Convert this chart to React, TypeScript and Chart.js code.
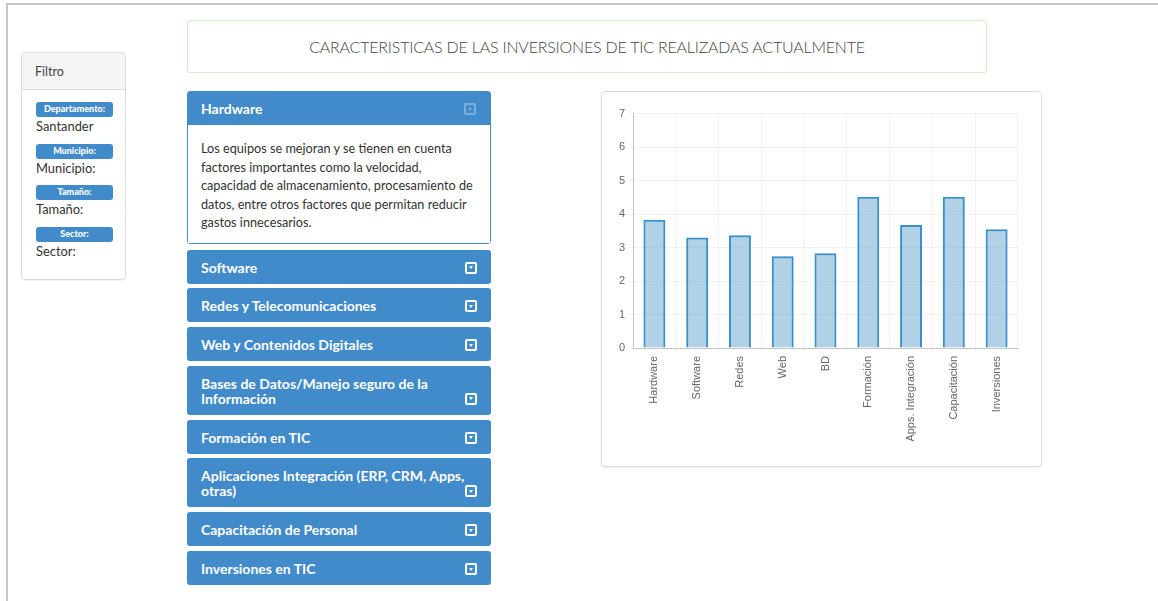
import React, { useEffect, useRef } from "react";
import { Chart, registerables } from "chart.js";

Chart.register(...registerables);

const categories = [
  "Hardware",
  "Software",
  "Redes",
  "Web",
  "BD",
  "Formación",
  "Apps. Integración",
  "Capacitación",
  "Inversiones",
];
const values = [3.83, 3.3, 3.37, 2.74, 2.83, 4.52, 3.67, 4.52, 3.55];
const yMin = 0;
const yMax = 7;
const yStep = 1;

const pageTitle = "CARACTERISTICAS DE LAS INVERSIONES DE TIC REALIZADAS ACTUALMENTE";
const filterLabels = ["Departamento:", "Municipio:", "Tamaño:", "Sector:"];
const filterValues = ["Santander", "Municipio:", "Tamaño:", "Sector:"];
const openTitle = "Hardware";
const openBodyLines = [
  "Los equipos se mejoran y se tienen en cuenta",
  "factores importantes como la velocidad,",
  "capacidad de almacenamiento, procesamiento de",
  "datos, entre otros factores que permitan reducir",
  "gastos innecesarios.",
];
const closedTitles = [
  ["Software"],
  ["Redes y Telecomunicaciones"],
  ["Web y Contenidos Digitales"],
  ["Bases de Datos/Manejo seguro de la", "Información"],
  ["Formación en TIC"],
  ["Aplicaciones Integración (ERP, CRM, Apps,", "otras)"],
  ["Capacitación de Personal"],
  ["Inversiones en TIC"],
];

const BLUE = "#428bca";
const FONT = "Lato, 'Open Sans', sans-serif";

function Icon({ faded }: { faded?: boolean }) {
  return (
    <div
      style={{
        position: "absolute",
        right: 14,
        bottom: 10,
        width: 12,
        height: 12,
        boxSizing: "border-box",
        border: "2px solid #fff",
        borderRadius: 2,
        opacity: faded ? 0.3 : 1,
      }}
    >
      <div
        style={{
          position: "absolute",
          left: 1.5,
          top: 2.5,
          width: 0,
          height: 0,
          borderLeft: "2.5px solid transparent",
          borderRight: "2.5px solid transparent",
          borderTop: "3px solid #fff",
        }}
      />
    </div>
  );
}

function BarChart() {
  const ref = useRef<HTMLCanvasElement | null>(null);
  useEffect(() => {
    if (!ref.current) return;
    const chart = new Chart(ref.current, {
      type: "bar",
      data: {
        labels: categories,
        datasets: [
          {
            data: values,
            backgroundColor: "rgba(60,141,196,0.4)",
            borderColor: "#3a8fca",
            borderWidth: 2,
            barPercentage: 0.57,
            categoryPercentage: 0.9,
          },
        ],
      },
      options: {
        animation: false,
        responsive: false,
        devicePixelRatio: 1,
        layout: { padding: { top: 0, right: 0, bottom: 0, left: 0 } },
        plugins: { legend: { display: false }, tooltip: { enabled: false } },
        scales: {
          y: {
            min: yMin,
            max: yMax,
            ticks: {
              stepSize: yStep,
              color: "#666",
              padding: 4,
              font: { family: "'Liberation Sans', Arial, sans-serif", size: 11 },
            },
            grid: { color: "rgba(0,0,0,0.05)", tickLength: 4 },
            border: { color: "#c4c4c4" },
            afterFit: (s: any) => {
              s.width = 27;
            },
          },
          x: {
            offset: true,
            ticks: {
              minRotation: 90,
              maxRotation: 90,
              autoSkip: false,
              color: "#666",
              padding: 4,
              font: { family: "'Liberation Sans', Arial, sans-serif", size: 11 },
            },
            grid: { color: "rgba(0,0,0,0.05)", tickLength: 4, offset: true },
            border: { color: "#c4c4c4" },
            afterFit: (s: any) => {
              s.height = 103;
            },
          },
        },
      },
    });
    return () => chart.destroy();
  }, []);
  return (
    <canvas
      ref={ref}
      width={412}
      height={348}
      style={{ position: "absolute", left: 606, top: 103, width: 412, height: 348 }}
    />
  );
}

export default function App() {
  return (
    <div
      style={{
        position: "absolute",
        left: 0,
        top: 0,
        width: 1158,
        height: 601,
        overflow: "hidden",
        background: "#fff",
        fontFamily: FONT,
        color: "#333",
      }}
    >
      {/* outer frame */}
      <div
        style={{
          position: "absolute",
          left: 6,
          top: 3,
          width: 1200,
          height: 700,
          borderTop: "2px solid #c6c6c6",
          borderLeft: "2px solid #c6c6c6",
        }}
      />

      {/* filter panel */}
      <div
        style={{
          position: "absolute",
          left: 21,
          top: 52,
          width: 105,
          height: 228,
          boxSizing: "border-box",
          border: "1px solid #dcdcdc",
          borderRadius: 4,
          boxShadow: "0 1px 1px rgba(0,0,0,0.05)",
          overflow: "hidden",
        }}
      >
        <div
          style={{
            height: 36,
            background: "#f5f5f5",
            borderBottom: "1px solid #dcdcdc",
            fontSize: 12.5,
            lineHeight: "38px",
            paddingLeft: 13,
            color: "#444",
          }}
        >
          Filtro
        </div>
        {filterLabels.map((lab, i) => (
          <div key={lab} style={{ position: "absolute", left: 14, top: 49 + i * 41.7 }}>
            <div
              style={{
                width: 77,
                height: 15,
                background: BLUE,
                borderRadius: 3,
                color: "#fff",
                fontWeight: 900,
                fontSize: 9,
                lineHeight: "14px",
                textAlign: "center",
              }}
            >
              {lab}
            </div>
            <div style={{ fontSize: 12.9, lineHeight: "19px", color: "#333", whiteSpace: "nowrap" }}>
              {filterValues[i]}
            </div>
          </div>
        ))}
      </div>

      {/* title box */}
      <div
        style={{
          position: "absolute",
          left: 187,
          top: 20,
          width: 800,
          height: 53,
          boxSizing: "border-box",
          border: "1px solid #d6e9c6",
          borderRadius: 3,
          textAlign: "center",
          lineHeight: "51px",
          fontSize: 16,
          fontWeight: 300,
          color: "#444",
          letterSpacing: -0.2,
        }}
      >
        {pageTitle}
      </div>

      {/* accordion */}
      <div style={{ position: "absolute", left: 187, top: 91, width: 304 }}>
        <div style={{ border: `1px solid ${BLUE}`, borderRadius: 3, boxSizing: "border-box" }}>
          <div
            style={{
              position: "relative",
              background: BLUE,
              color: "#fff",
              fontWeight: 700,
              fontSize: 14,
              lineHeight: "15px",
              padding: "9px 13px 9px",
              height: 15,
            }}
          >
            {openTitle}
            <Icon faded />
          </div>
          <div
            style={{
              background: "#fff",
              padding: "14px 13px 11px",
              fontSize: 12.7,
              lineHeight: "18.5px",
              color: "#333",
              height: 92.5,
            }}
          >
            {openBodyLines.map((l) => (
              <div key={l} style={{ whiteSpace: "nowrap" }}>
                {l}
              </div>
            ))}
          </div>
        </div>
        <div style={{ height: 6 }} />
        {closedTitles.map((lines, i) => (
          <div
            key={i}
            style={{
              position: "relative",
              background: BLUE,
              color: "#fff",
              fontWeight: 700,
              fontSize: 14,
              lineHeight: "15px",
              padding: "10px 14px 9px",
              borderRadius: 3,
              marginBottom: 4.8,
            }}
          >
            {lines.map((l) => (
              <div key={l} style={{ whiteSpace: "nowrap" }}>
                {l}
              </div>
            ))}
            <Icon />
          </div>
        ))}
      </div>

      {/* chart panel */}
      <div
        style={{
          position: "absolute",
          left: 601,
          top: 91,
          width: 441,
          height: 376,
          boxSizing: "border-box",
          border: "1px solid #dddddd",
          borderRadius: 4,
          boxShadow: "0 1px 2px rgba(0,0,0,0.08)",
        }}
      />
      <BarChart />
    </div>
  );
}
